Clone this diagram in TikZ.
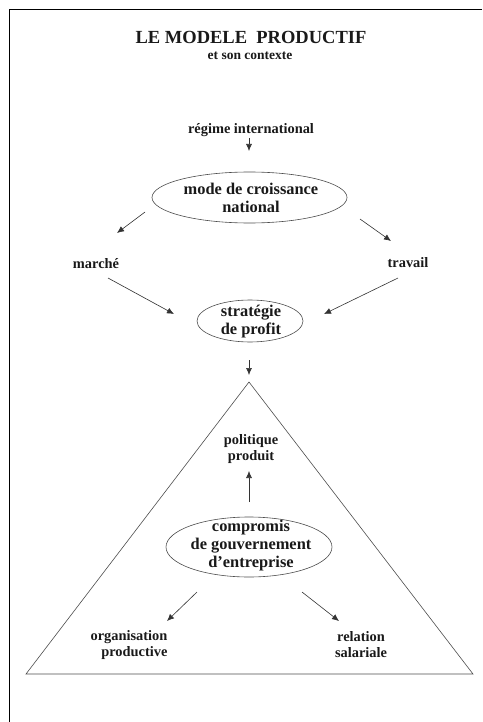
\documentclass[tikz,border=0pt]{standalone}
\usepackage{fontspec}
\setmainfont{Liberation Serif}
\usetikzlibrary{shapes.geometric,arrows.meta}
\begin{document}
\begin{tikzpicture}[x=1pt,y=-1pt,
  lbl/.style={font=\bfseries\fontsize{14.4}{16}\selectfont, align=center, inner sep=0pt, text=black!90},
  big/.style={font=\bfseries\fontsize{16.4}{18}\selectfont, align=center, inner sep=0pt, text=black!90},
  ell/.style={draw=black!70, line width=0.6pt, ellipse},
  arr/.style={draw=black!80, line width=0.6pt, -{Latex[length=7pt,width=6pt]}},
  frame/.style={draw=black, line width=0.8pt}]
\useasboundingbox (0,0) rectangle (482,722);
\draw[frame] (482,9) -- (9,9) -- (9,722);
\node[lbl, font=\bfseries\fontsize{18.5}{20}\selectfont] (title) at (251,37) {LE MODELE\ \ PRODUCTIF};
\node[lbl, font=\bfseries\fontsize{13.5}{15}\selectfont] (sub) at (250,56) {et son contexte};
\node[lbl] (regime) at (251,130) {régime international};
\coordinate (ra) at (249,138);
\coordinate (rb) at (249,151);
\draw[arr] (ra) -- (rb);
\draw[ell] (249.5,197.5) ellipse [x radius=97.5, y radius=25.5];
\node[big] (mode) at (251,198) {mode de croissance\\national};
\node[lbl] (marche) at (96,264) {marché};
\node[lbl] (travail) at (408,263) {travail};
\coordinate (m1) at (145,212); \coordinate (m2) at (117,233);
\coordinate (t1) at (360,219); \coordinate (t2) at (391,241);
\draw[arr] (m1) -- (m2);
\draw[arr] (t1) -- (t2);
\coordinate (ma) at (108,278); \coordinate (mb) at (174,314);
\coordinate (ta) at (398,278); \coordinate (tb) at (324,314);
\draw[arr] (ma) -- (mb);
\draw[arr] (ta) -- (tb);
\draw[ell] (250,321) ellipse [x radius=53, y radius=21];
\node[big] (strat) at (251,322) {stratégie\\de profit};
\coordinate (sa) at (249,360); \coordinate (sb) at (249,375);
\draw[arr] (sa) -- (sb);
\coordinate (apex) at (249,382);
\coordinate (bl) at (26,674);
\coordinate (br) at (473,674);
\draw[draw=black!70, line width=0.6pt] (apex) -- (br) -- (bl) -- cycle;
\node[lbl] (pol) at (251,449) {politique\\produit};
\coordinate (pa) at (249,502); \coordinate (pb) at (249,471);
\draw[arr] (pa) -- (pb);
\draw[ell] (249,547) ellipse [x radius=83, y radius=30];
\node[big] (comp) at (251,546) {compromis\\de gouvernement\\d’entreprise};
\coordinate (ca) at (197,592); \coordinate (cb) at (167,621);
\coordinate (da) at (302,592); \coordinate (db) at (339,621);
\draw[arr] (ca) -- (cb);
\draw[arr] (da) -- (db);
\node[lbl, align=right] (org) at (129,645) {organisation\\productive};
\node[lbl] (rel) at (361,645) {relation\\salariale};
\end{tikzpicture}
\end{document}
